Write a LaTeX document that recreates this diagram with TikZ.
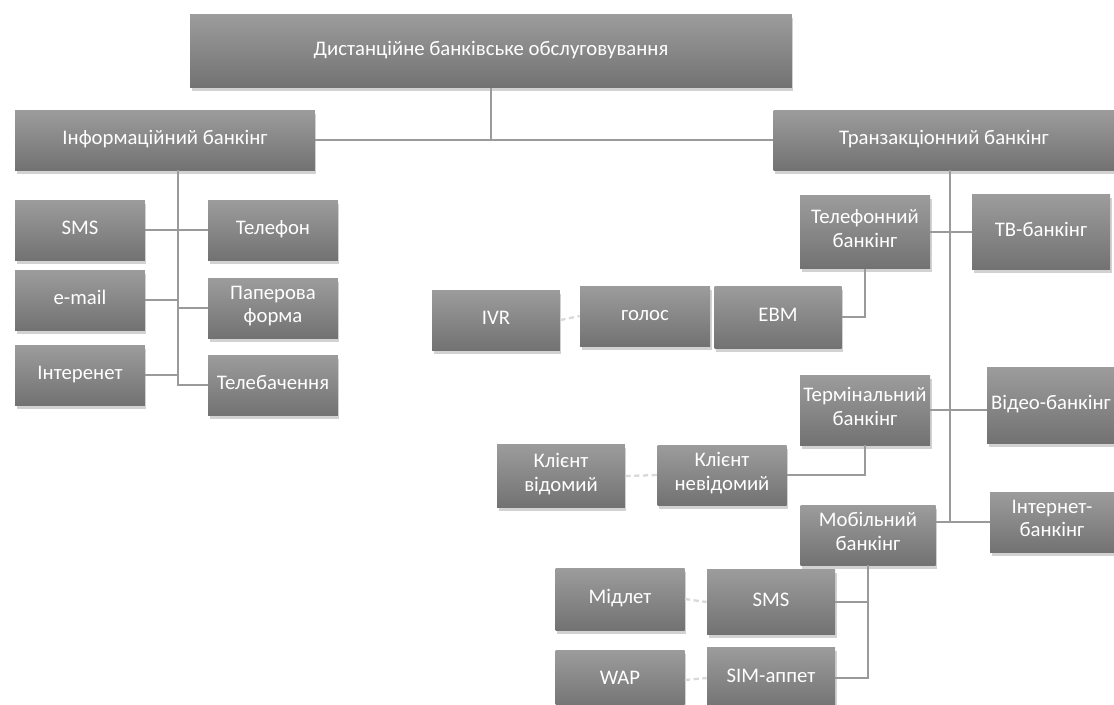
\documentclass[tikz,border=0pt]{standalone}
\usepackage{fontspec}
\setmainfont{Carlito}
\usetikzlibrary{shadows}
\definecolor{boxtop}{HTML}{9C9C9C}
\definecolor{boxbot}{HTML}{727272}
\definecolor{linegray}{HTML}{9A9A9A}
\tikzset{
        box/.style={rectangle, top color=boxtop, bottom color=boxbot, text=white,
                align=center, inner sep=1pt, font=\fontsize{11.8}{13.5}\selectfont,
                execute at begin node=\strut, execute at end node=\strut,
                drop shadow={shadow xshift=0.03cm, shadow yshift=-0.07cm, opacity=0.35}},
        sz/.style 2 args={minimum width=#1cm, minimum height=#2cm},
        link/.style={draw=linegray, line width=0.9pt},
        faint/.style={draw=gray!30, line width=1.3pt, densely dashed}
}
\begin{document}
\begin{tikzpicture}[x=0.02cm, y=-0.02cm]
        \useasboundingbox[fill=white] (0,0) rectangle (1114,704);
        \node[box, sz={12.04}{1.46}] (dbo) at (491,51) {Дистанційне банківське обслуговування};
        \node[box, sz={6}{1.2}] (info) at (165,140) {Інформаційний банкінг};
        \node[box, sz={6.82}{1.2}] (trans) at (944,140) {Транзакціонний банкінг};
        \node[box, sz={2.6}{1.2}] (sms) at (80,230) {SMS};
        \node[box, sz={2.6}{1.2}] (email) at (80,300) {e-mail};
        \node[box, sz={2.6}{1.2}] (inet) at (80,375) {Інтеренет};
        \node[box, sz={2.6}{1.2}] (phone) at (273,230) {Телефон};
        \node[box, sz={2.6}{1.2}] (paper) at (273,308) {Паперова\\форма};
        \node[box, sz={2.6}{1.2}] (tv) at (273,385) {Телебачення};
        \node[box, sz={2.6}{1.46}] (tel) at (865,232) {Телефонний\\банкінг};
        \node[box, sz={2.76}{1.5}] (tvb) at (1041,232) {ТВ-банкінг};
        \node[box, sz={2.56}{1.2}] (ivr) at (496,320) {IVR};
        \node[box, sz={2.6}{1.2}] (voice) at (645,316) {голос};
        \node[box, sz={2.54}{1.24}] (evm) at (778,317) {ЕВМ};
        \node[box, sz={2.6}{1.4}] (term) at (865,410) {Термінальний\\банкінг};
        \node[box, sz={2.56}{1.52}] (video) at (1051,405) {Відео-банкінг};
        \node[box, sz={2.56}{1.26}] (known) at (561,476) {Клієнт\\відомий};
        \node[box, sz={2.58}{1.2}] (unknown) at (722,475) {Клієнт\\невідомий};
        \node[box, sz={2.7}{1.2}] (mob) at (868,535) {Мобільний\\банкінг};
        \node[box, sz={2.48}{1.2}] (ibank) at (1052,522) {Інтернет-\\банкінг};
        \node[box, sz={2.58}{1.24}] (midlet) at (620,599) {Мідлет};
        \node[box, sz={2.56}{1.3}] (sms2) at (771,602) {SMS};
        \node[box, sz={2.58}{1.2}] (wap) at (620,680) {WAP};
        \node[box, sz={2.56}{1.24}] (sim) at (771,678) {SIM-аппет};
        \coordinate (ibus) at (178,170);
        \coordinate (tbus) at (950,170);
        \draw[link] (dbo.south) -- (dbo.south |- info.east);
        \draw[link] (info.east) -- (trans.west);
        \draw[link] (ibus) -- (ibus |- tv.west) -- (tv.west);
        \draw[link] (sms.east) -- (phone.west);
        \draw[link] (email.east) -- (email.east -| ibus);
        \draw[link] (paper.west -| ibus) -- (paper.west);
        \draw[link] (inet.east) -- (inet.east -| ibus);
        \draw[link] (tbus) -- (tbus |- ibank.west);
        \draw[link] (tel.east) -- (tvb.west);
        \draw[link] (term.east) -- (term.east -| video.west);
        \draw[link] (ibank.west -| mob.east) -- (ibank.west);
        \draw[link] (evm.east) -| (tel.south);
        \draw[link] (unknown.east) -| (term.south);
        \draw[link] (mob.south) |- (sim.east);
        \draw[link] (sms2.east) -- (sms2.east -| mob.south);
        \draw[faint] (ivr.east) -- (voice.west);
        \draw[faint] (known.east) -- (unknown.west);
        \draw[faint] (midlet.east) -- (sms2.west);
        \draw[faint] (wap.east) -- (sim.west);
\end{tikzpicture}
\end{document}
